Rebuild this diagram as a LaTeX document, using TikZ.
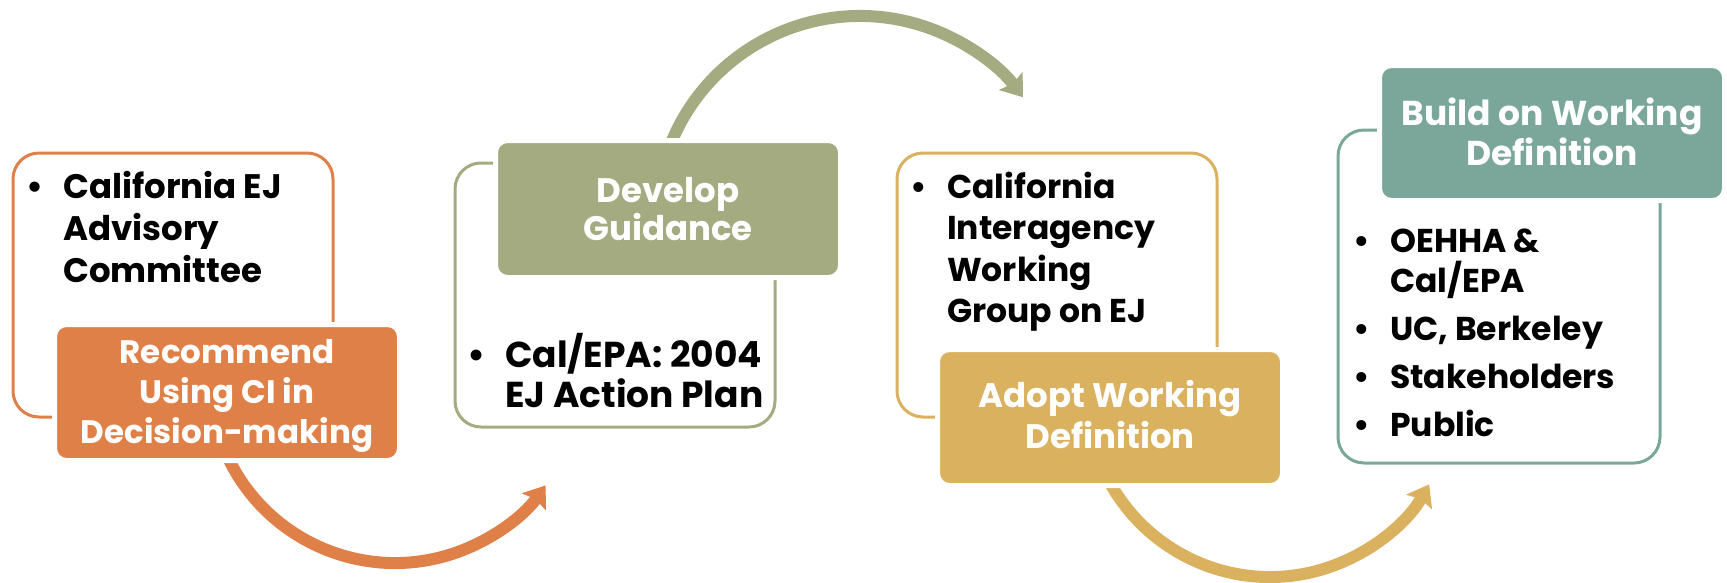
\documentclass[tikz,border=0pt]{standalone}
\usepackage{fontspec}
\setmainfont{Poppins}
\usetikzlibrary{arrows.meta}
\definecolor{corange}{HTML}{DF8049}
\definecolor{cgreen}{HTML}{A4AB81}
\definecolor{cgold}{HTML}{D9B15F}
\definecolor{cteal}{HTML}{7BA69A}
\newcommand\fl{\rule{0pt}{30pt}}
\newcommand\bul{\llap{\textbullet\hspace{20pt}}}
\newcommand\bfs[2]{\fontsize{#1}{#2}\selectfont\bfseries}
\tikzset{
  outlinebox/.style={draw=#1, line width=3pt, rounded corners=26pt, inner sep=0pt, fill=white},
  filledbox/.style={fill=#1, draw=white, line width=5pt, rounded corners=12pt, inner sep=0pt},
  arcarrow/.style={draw=#1, line width=12pt, -{Stealth[length=20pt,width=29pt,inset=3pt]}},
  btext/.style={anchor=north west, inner sep=0pt, align=left, text=black},
  wtext/.style={anchor=north, inner sep=0pt, align=center, text=white},
}
\begin{document}
\begin{tikzpicture}[x=1pt,y=-1pt]
\useasboundingbox (0,0) rectangle (1727,582);
% outline boxes
\node[outlinebox=corange, minimum width=320pt, minimum height=264pt] (o1) at (173,285) {};
\node[outlinebox=cgreen, minimum width=320pt, minimum height=264pt] (o2) at (615,295) {};
\node[outlinebox=cgold, minimum width=320pt, minimum height=264pt] (o3) at (1057,285) {};
\node[outlinebox=cteal, minimum width=322pt, minimum height=333pt] (o4) at (1499,296.5) {};
% arc centres
\coordinate (c1) at (395,378);
\coordinate (c2) at (860,220);
\coordinate (c3) at (1270,394);
% arrows
\draw[arcarrow=corange] (c1) ++(160:185) arc[start angle=160, end angle=35.5, radius=185];
\draw[arcarrow=cgreen] (c2) ++(200:204) arc[start angle=200, end angle=323, radius=204];
\draw[arcarrow=cgold] (c3) ++(160:183) arc[start angle=160, end angle=29.6, radius=183];
% filled boxes
\node[filledbox=corange, minimum width=345pt, minimum height=136pt] (f1) at (227,392.5) {};
\node[filledbox=cgreen, minimum width=345pt, minimum height=137pt] (f2) at (668,209) {};
\node[filledbox=cgold, minimum width=345pt, minimum height=136pt] (f3) at (1110,417.5) {};
\node[filledbox=cteal, minimum width=345pt, minimum height=135pt] (f4) at (1552,133) {};
% texts
\node[btext, font=\bfs{34}{42}] (t1) at (63,168) {\fl\bul California EJ\\Advisory\\Committee};
\node[wtext, font=\bfs{32.5}{40}] (h1) at (227,333) {\fl Recommend\\Using CI in\\Decision-making};
\node[wtext, font=\bfs{34}{38.5}] (h2) at (668,172) {\fl Develop\\Guidance};
\node[btext, font=\bfs{36}{40}] (t2) at (505,333) {\fl\bul Cal/EPA: 2004\\EJ Action Plan};
\node[btext, font=\bfs{33}{41.5}] (t3) at (947,168) {\fl\bul California\\Interagency\\Working\\Group on EJ};
\node[wtext, font=\bfs{34}{41}] (h3) at (1110,377) {\fl Adopt Working\\Definition};
\node[wtext, font=\bfs{34.5}{40}] (h4) at (1552,95) {\fl Build on Working\\Definition};
\node[btext, font=\bfs{33}{40}] (t4) at (1390,222) {\fl\bul OEHHA \&\\Cal/EPA\\[8pt]\bul UC, Berkeley\\[8pt]\bul Stakeholders\\[8pt]\bul Public};
\end{tikzpicture}
\end{document}
